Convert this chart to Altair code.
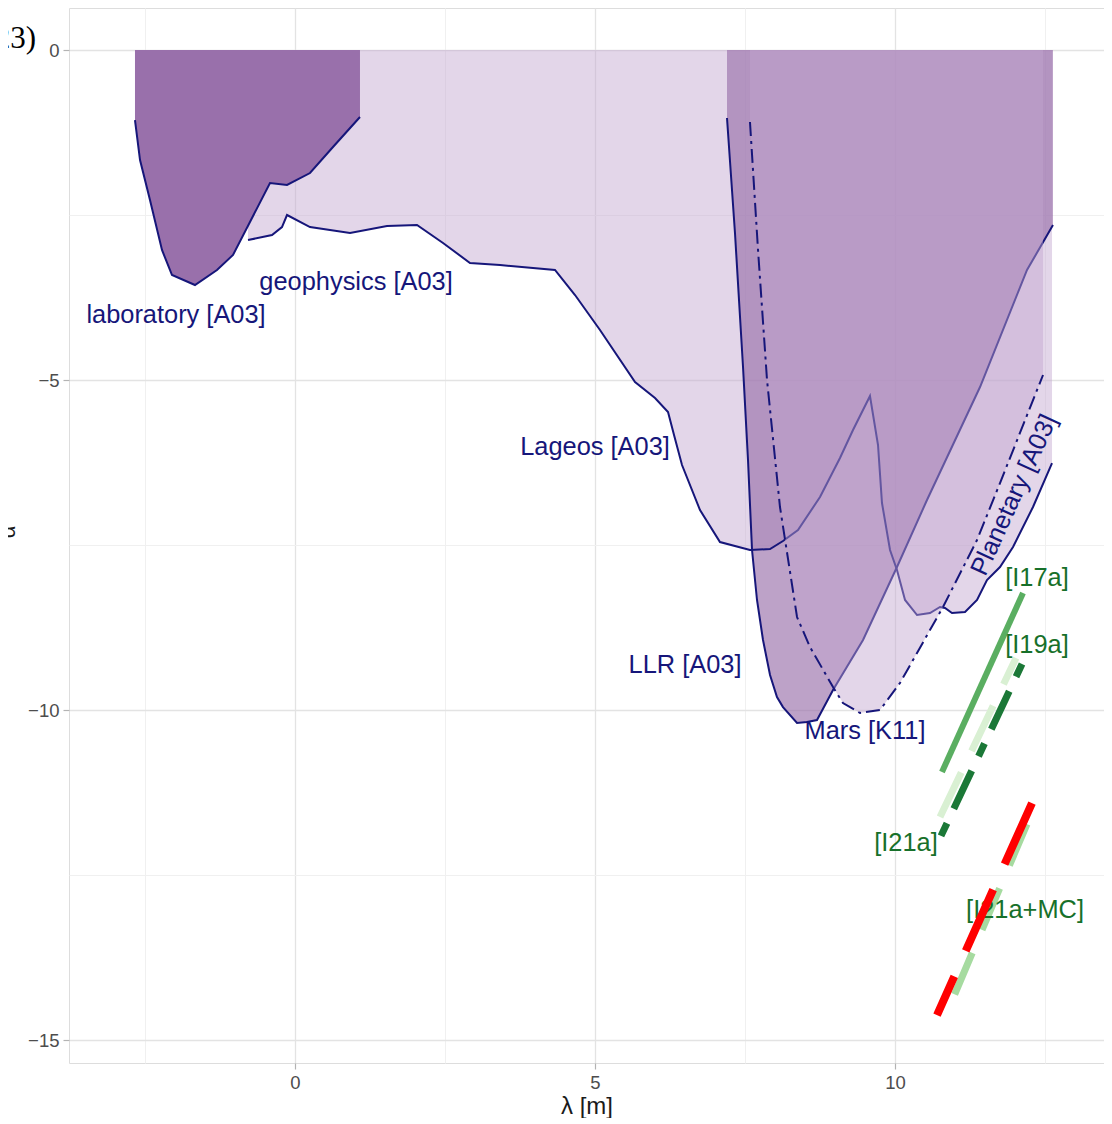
import altair as alt
import pandas as pd

# ---------------- data (x = log10 lambda [m], y = log10 alpha) ----------------
lab_x = [-2.667, -2.583, -2.417, -2.217, -2.05, -1.667, -1.3, -1.033, -0.417, -0.133, 0.25, 0.633, 1.083]
lab_y = [-1.061, -1.667, -2.273, -3.03, -3.409, -3.561, -3.333, -3.106, -2.015, -2.045, -1.864, -1.47, -1.015]

a03_x = [-0.783, -0.383, -0.217, -0.133, 0.25, 0.917, 1.533, 2.033, 2.467, 2.917, 3.417, 4.333, 4.667,
         5.083, 5.667, 6.0, 6.217, 6.317, 6.45, 6.75, 7.083, 7.583, 7.917, 8.133, 8.383, 8.75, 9.083,
         9.3, 9.583, 9.717, 9.783, 9.917, 10.033, 10.167, 10.367, 10.583, 10.75, 10.833, 10.95, 11.167,
         11.367, 11.533, 11.75, 11.967, 12.3, 12.617]
a03_y = [-2.879, -2.803, -2.682, -2.5, -2.682, -2.773, -2.667, -2.652, -2.924, -3.227, -3.258, -3.333, -3.712,
         -4.242, -5.03, -5.273, -5.485, -5.833, -6.288, -6.97, -7.455, -7.576, -7.561, -7.439, -7.273, -6.773, -6.182,
         -5.758, -5.242, -5.985, -6.864, -7.576, -7.879, -8.333, -8.561, -8.53, -8.439, -8.455, -8.53, -8.515,
         -8.333, -8.03, -7.833, -7.53, -6.924, -6.258]

llr_x = [7.2, 7.333, 7.467, 7.55, 7.617, 7.7, 7.8, 7.917, 8.033, 8.133, 8.367, 8.533, 8.7, 8.967, 9.467,
         10.033, 10.533, 11.417, 12.2, 12.633]
llr_y = [-1.03, -2.773, -4.803, -6.212, -7.576, -8.333, -8.939, -9.47, -9.803, -9.955, -10.197, -10.182,
         -10.152, -9.697, -8.939, -7.833, -6.818, -5.106, -3.333, -2.652]

mars_x = [7.583, 7.717, 7.867, 8.083, 8.367, 8.583, 8.967, 9.133, 9.417, 9.75, 10.083, 10.367, 10.8,
          11.367, 11.75, 12.467]
mars_y = [-1.091, -3.03, -5.0, -6.924, -8.591, -9.045, -9.652, -9.894, -10.045, -10.0, -9.591, -9.136,
          -8.439, -7.424, -6.561, -4.924]

# projected sensitivity lines (top end first)
i17a_x = [12.133, 10.783]
i17a_y = [-8.227, -10.939]
i19a_x = [12.117, 10.75]
i19a_y = [-9.303, -11.939]
i21a_x = [12.017, 10.75]
i21a_y = [-9.212, -11.621]
i21amc_x = [12.2, 10.833]
i21amc_y = [-11.727, -14.652]
red_x = [12.283, 10.7]
red_y = [-11.409, -14.621]

blue_labels = ["laboratory [A03]", "geophysics [A03]", "Lageos [A03]", "LLR [A03]", "Mars [K11]"]
blue_lab_x = [-1.983, 1.017, 5.0, 6.5, 9.5]
blue_lab_y = [-4.015, -3.515, -6.015, -9.318, -10.318]

planet_label = ["Planetary [A03]"]
planet_x = [11.983]
planet_y = [-6.742]

green_labels = ["[I17a]", "[I19a]", "[I21a]", "[I21a+MC]"]
green_lab_x = [12.367, 12.367, 10.183, 12.167]
green_lab_y = [-8.0, -9.015, -12.015, -13.03]

corner_text = ["(2023)"]
y_title = ["α"]

x_ticks = [-2.5, 0, 2.5, 5, 7.5, 10, 12.5]
y_ticks = [-15, -12.5, -10, -7.5, -5, -2.5, 0]

X_DOMAIN = [-3.7667, 13.4833]
Y_DOMAIN = [-15.348, 0.6364]

# ---------------- helpers ----------------
def cdf(xs, ys):
    return pd.DataFrame({"x": xs, "y": ys, "top": [0.0] * len(xs), "i": list(range(len(xs)))})

FONT = "Liberation Sans"
NAVY = "#16167a"
GREEN_TXT = "#17702a"
LABEL_SIZE = 25.4

minor_test = "datum.value % 5 !== 0"
common_axis = dict(
    labelExpr="datum.value % 5 === 0 ? format(datum.value, 'd') : ''",
    grid=True,
    gridColor={"condition": {"test": minor_test, "value": "#F0F0F0"}, "value": "#E3E3E3"},
    gridWidth={"condition": {"test": minor_test, "value": 1}, "value": 1.3},
    tickColor={"condition": {"test": minor_test, "value": "transparent"}, "value": "#B3B3B3"},
    tickSize=6, tickWidth=1.2,
    labelFont=FONT, labelFontSize=18.5, labelColor="#4D4D4D", labelPadding=4,
    domain=False,
)
x_axis = alt.Axis(
    values=x_ticks,
    title="λ [m]", titleFont=FONT, titleFontSize=24, titleFontWeight="normal", titleColor="#1A1A1A",
    titleBaseline="alphabetic", titleY=50,
    **common_axis,
)
y_axis = alt.Axis(values=y_ticks, title=None, **common_axis)

xs = alt.Scale(domain=X_DOMAIN, nice=False, zero=False)
ys = alt.Scale(domain=Y_DOMAIN, nice=False, zero=False)

def X():
    return alt.X("x:Q", scale=xs, axis=x_axis)

def Y():
    return alt.Y("y:Q", scale=ys, axis=y_axis)

def area(xs_, ys_, color, opacity):
    return alt.Chart(cdf(xs_, ys_)).mark_area(color=color, opacity=opacity).encode(
        x=X(), y=Y(), y2="top:Q")

def line(xs_, ys_, color, width, dash=None, offset=None):
    kw = dict(color=color, strokeWidth=width)
    if dash is not None:
        kw["strokeDash"] = dash
    if offset is not None:
        kw["strokeDashOffset"] = offset
    return alt.Chart(cdf(xs_, ys_)).mark_line(**kw).encode(x=X(), y=Y(), order=alt.Order("i:Q"))

layers = [
    area(a03_x, a03_y, "#C2A5CF", 0.45),
    area(llr_x, llr_y, "#9970AB", 0.65),
    line(a03_x, a03_y, NAVY, 2),
    line(llr_x, llr_y, NAVY, 2),
    area(mars_x, mars_y, "#C2A5CF", 0.45),
    line(mars_x, mars_y, NAVY, 2, dash=[14, 5, 3, 5]),
    area(lab_x, lab_y, "#9970AB", 1.0),
    line(lab_x, lab_y, NAVY, 2),
    line(i17a_x, i17a_y, "#5AAE61", 6),
    line(i21a_x, i21a_y, "#D9F0D3", 7, dash=[50, 24], offset=21),
    line(i19a_x, i19a_y, "#1B7837", 7, dash=[14, 16, 42, 16]),
    line(i21amc_x, i21amc_y, "#A6DBA0", 7, dash=[45, 25]),
]

txt_blue = alt.Chart(pd.DataFrame({"x": blue_lab_x, "y": blue_lab_y, "t": blue_labels})).mark_text(
    font=FONT, fontSize=LABEL_SIZE, color=NAVY, align="center", baseline="middle").encode(
    x=X(), y=Y(), text="t:N")
txt_planet = alt.Chart(pd.DataFrame({"x": planet_x, "y": planet_y, "t": planet_label})).mark_text(
    font=FONT, fontSize=LABEL_SIZE, color=NAVY, align="center", baseline="middle", angle=294.5).encode(
    x=X(), y=Y(), text="t:N")
txt_green = alt.Chart(pd.DataFrame({"x": green_lab_x, "y": green_lab_y, "t": green_labels})).mark_text(
    font=FONT, fontSize=LABEL_SIZE, color=GREEN_TXT, align="center", baseline="middle").encode(
    x=X(), y=Y(), text="t:N")

red = line(red_x, red_y, "#FF0000", 8, dash=[67, 28])

corner = alt.Chart(pd.DataFrame({"t": corner_text})).mark_text(
    font="Liberation Serif", fontSize=31, color="black", align="right", baseline="alphabetic").encode(
    x=alt.value(-33), y=alt.value(40), text="t:N")
ytitle = alt.Chart(pd.DataFrame({"t": y_title})).mark_text(
    font=FONT, fontSize=22, color="#1A1A1A", align="center", baseline="alphabetic", angle=270).encode(
    x=alt.value(-54), y=alt.value(524), text="t:N")

chart = alt.layer(*layers, txt_blue, txt_planet, txt_green, red, corner, ytitle).properties(
    width=1035, height=1055,
    padding={"left": 61, "top": 0, "right": 0, "bottom": 55},
    autosize=alt.AutoSizeParams(type="none"),
).configure_view(stroke="#C4C4C4", strokeWidth=1.5).configure(background="white")

chart.save("out.html", embed_options={"renderer": "svg", "actions": False})
